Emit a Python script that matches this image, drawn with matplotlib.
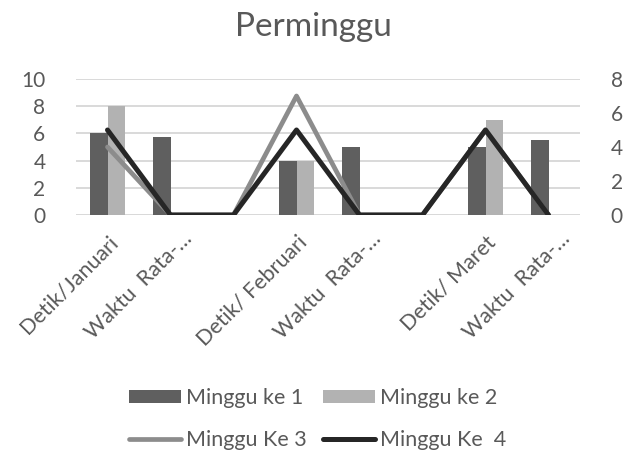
import numpy as np
import matplotlib
matplotlib.use("Agg")
import matplotlib.pyplot as plt
from matplotlib.transforms import ScaledTranslation

plt.rcParams['font.family'] = ['Lato', 'DejaVu Sans']

categories = ["Detik/Januari", "Waktu  Rata-…", "", "Detik/ Februari",
              "Waktu  Rata-…", "", "Detik/ Maret", "Waktu  Rata-…"]
minggu1 = [6, 5.7, np.nan, 4, 5, np.nan, 5, 5.5]
minggu2 = [8, np.nan, np.nan, 4, np.nan, np.nan, 7, np.nan]
minggu3 = [4, 0, 0, 7, 0, 0, 5, 0]
minggu4 = [5, 0, 0, 5, 0, 0, 5, 0]
primary_ticks = [0, 2, 4, 6, 8, 10]
secondary_ticks = [0, 2, 4, 6, 8]

TXT = '#595959'
GRID = '#d9d9d9'

fig = plt.figure(figsize=(6.26, 4.54), dpi=100)
ax = fig.add_axes([76/626, 1-215/454, (580-76)/626, (215-79)/454])
ax2 = ax.twinx()

x = np.arange(len(categories))
w = 0.28
b1 = ax.bar(x - w/2, minggu1, width=w, color='#5f5f5f', label='Minggu ke 1', zorder=2)
b2 = ax.bar(x + w/2, minggu2, width=w, color='#b2b2b2', label='Minggu ke 2', zorder=2)
l3, = ax2.plot(x, minggu3, color='#8c8c8c', lw=3.4, solid_capstyle='round',
               solid_joinstyle='round', label='Minggu Ke 3', zorder=3)
l4, = ax2.plot(x, minggu4, color='#262626', lw=3.6, solid_capstyle='round',
               solid_joinstyle='round', label='Minggu Ke  4', zorder=4)

ax.set_xlim(-0.5, len(categories) - 0.5)
ax.set_ylim(0, 10)
ax2.set_ylim(0, 8)
ax.set_yticks(primary_ticks)
ax2.set_yticks(secondary_ticks)
ax.yaxis.grid(True, color=GRID, lw=1.4, zorder=0)
ax.set_axisbelow(True)
for a in (ax, ax2):
    for s in a.spines.values():
        s.set_visible(False)
    a.tick_params(length=0, labelsize=15, labelcolor=TXT)
ax.tick_params(axis='y', pad=22)
ax2.tick_params(axis='y', pad=22)
ax.axhline(0, color=GRID, lw=1.4, zorder=1)

ax.set_xticks(x)
ax.set_xticklabels(categories, rotation=45, ha='right', rotation_mode='anchor',
                   fontsize=15.5, color=TXT)
ax.tick_params(axis='x', pad=12)
shift = ScaledTranslation(11/100, 3/100, fig.dpi_scale_trans)
for lab in ax.get_xticklabels():
    if lab.get_text().startswith('Waktu'):
        lab.set_transform(lab.get_transform() + shift)

fig.text(0.5, 1-27/454, 'Perminggu', ha='center', va='center', fontsize=24, color=TXT)

leg = fig.legend([b1, l3, b2, l4],
                 ['Minggu ke 1', 'Minggu Ke 3', 'Minggu ke 2', 'Minggu Ke  4'],
                 ncol=2, loc='center', bbox_to_anchor=(318/626, 1-419/454),
                 frameon=False, fontsize=15.5, handlelength=2.4, handleheight=0.55,
                 handletextpad=0.25, columnspacing=0.75, labelspacing=1.05)
for t in leg.get_texts():
    t.set_color(TXT)

fig.savefig('out.png', dpi=100)
